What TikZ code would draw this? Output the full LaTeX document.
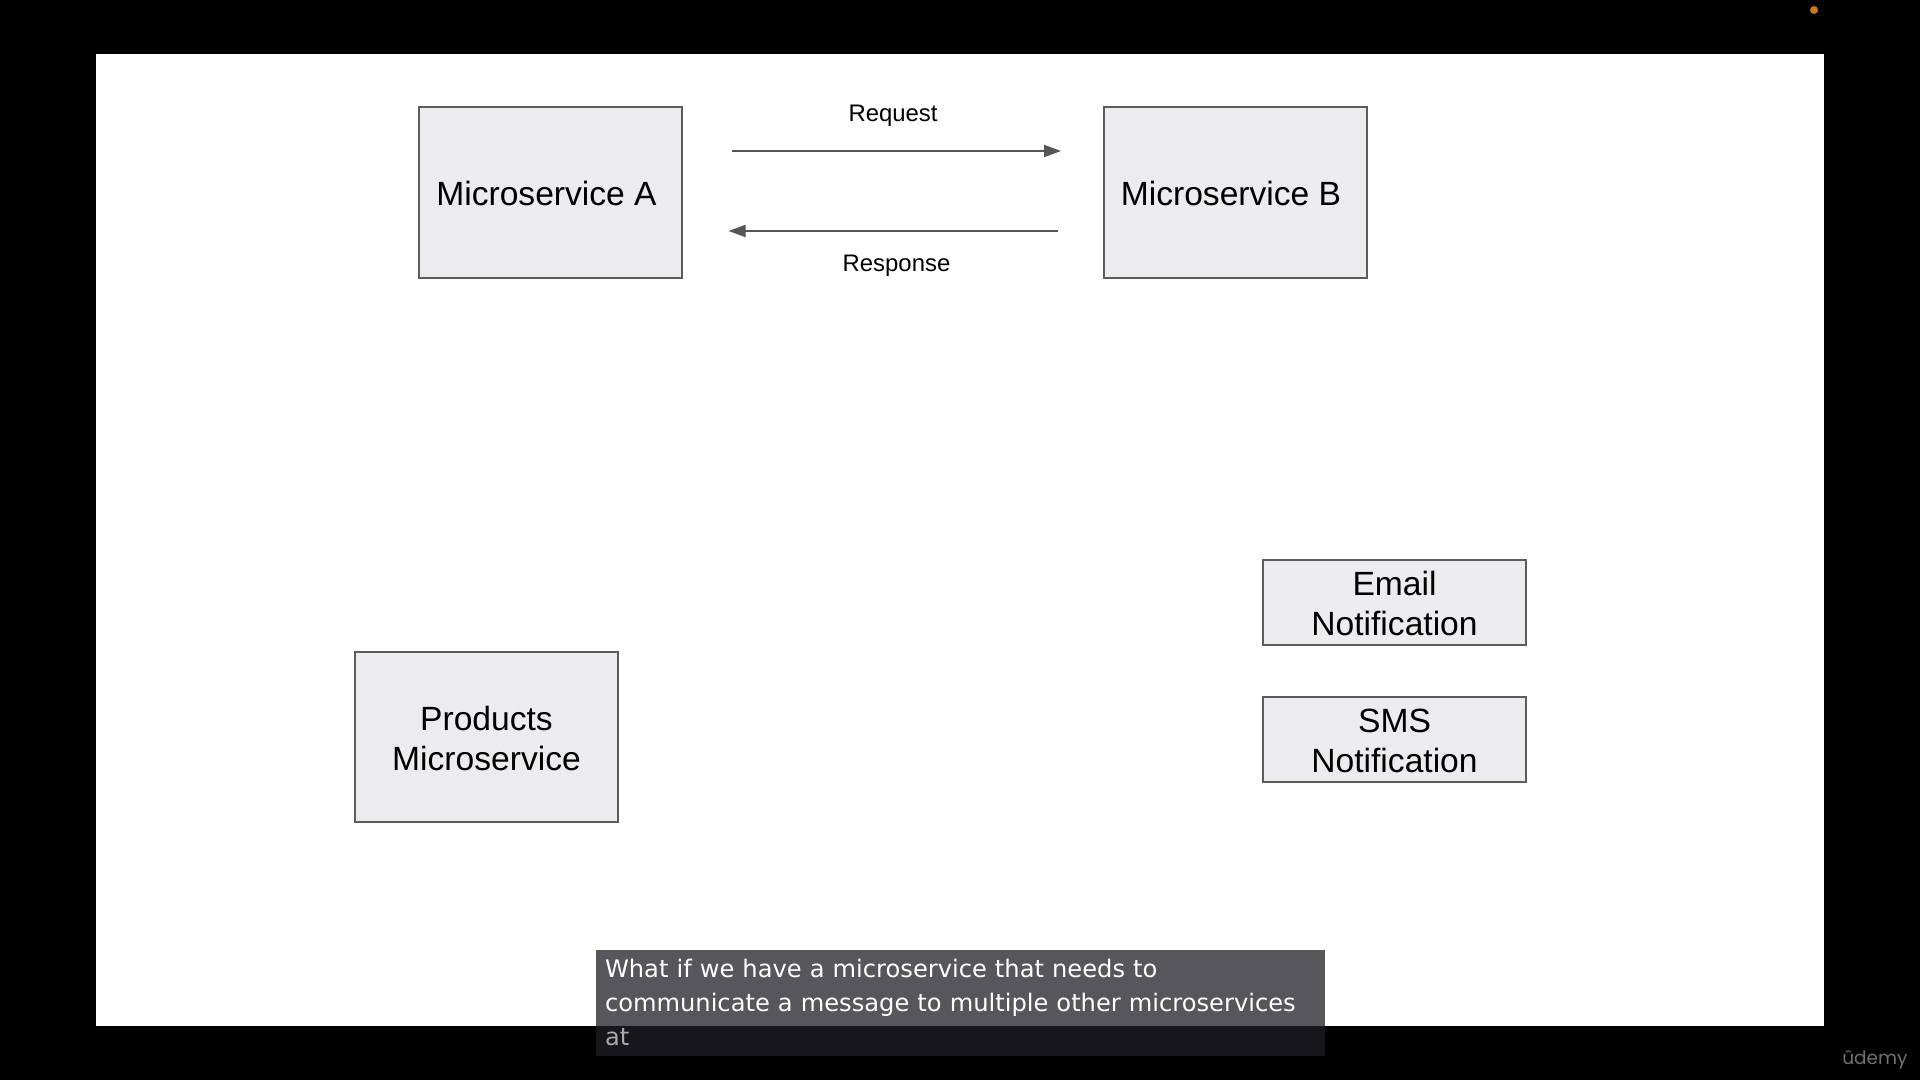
\documentclass[tikz,border=0pt]{standalone}
\usepackage{fontspec}
\setmainfont{Liberation Sans}
\newfontfamily\capfont{DejaVu Sans}
\newfontfamily\logofont{Poppins}
\usetikzlibrary{arrows.meta}
\definecolor{boxfill}{HTML}{ECEBED}
\definecolor{boxline}{HTML}{5C5C5C}
\definecolor{arrowcol}{HTML}{555555}
\definecolor{capbg}{RGB}{31,32,37}
\definecolor{dotcol}{HTML}{C87A22}
\definecolor{logocol}{HTML}{707070}
\newcommand\dn[1]{\raisebox{-1.3pt}[\height][\depth]{#1}}
\newcommand\up[1]{\raisebox{0.8pt}[\height][\depth]{#1}}
\tikzset{
  svcbox/.style={draw=boxline,fill=boxfill,line width=1.8pt,inner sep=0pt,outer sep=0pt,
    minimum width=263.5pt,align=center,text=black,font=\fontsize{33.6}{39.8}\selectfont},
  bigbox/.style={svcbox,minimum height=170.5pt},
  smallbox/.style={svcbox,minimum height=85pt},
  flow/.style={draw=arrowcol,line width=1.8pt,-{Triangle[length=17pt,width=12pt]}},
  flowlabel/.style={inner sep=0pt,text=black,font=\fontsize{23.9}{28}\selectfont},
}
\begin{document}
\begin{tikzpicture}[x=1pt,y=-1pt]
\useasboundingbox (0,0) rectangle (1920,1080);
\fill[black] (0,0) rectangle (1920,1080);
\fill[white] (96,54) rectangle (1824,1026);
\node[bigbox] (a) at (550.5,192.5) {\dn{Microservice A}\kern8pt};
\node[bigbox] (b) at (1235.5,192.5) {\dn{Microservice B}\kern9pt};
\node[bigbox] (p) at (486.5,737) {\dn{Products}\\\dn{Microservice}};
\node[smallbox] (e) at (1394.5,602.5) {\dn{Email}\\\dn{Notification}};
\node[smallbox] (s) at (1394.5,739.5) {\dn{SMS}\\\dn{Notification}};
\coordinate (reqs) at (732,151);
\coordinate (reqe) at (1061,151);
\coordinate (ress) at (1057.5,231);
\coordinate (rese) at (728.5,231);
\draw[flow] (reqs) -- (reqe);
\draw[flow] (ress) -- (rese);
\node[flowlabel] (reql) at (893,116) {Request};
\node[flowlabel] (resl) at (896.5,266) {Response};
\node[anchor=north west,minimum width=729pt,minimum height=106pt,text width=711pt,
  inner xsep=9pt,inner ysep=0pt,outer sep=0pt,fill=capbg,fill opacity=.75,text opacity=1,
  align=left,text=white,font=\capfont\fontsize{24.16}{34}\selectfont] (cap) at (596,950)
  {\up{What if we have a microservice that needs to}\\
   \up{communicate a message to multiple other microservices}\\
   \up{\textcolor[HTML]{A9A9AB}{at}}};
\fill[dotcol] (1814,10) circle (4pt);
\node[text=logocol,inner sep=0pt,font=\logofont\fontsize{18.5}{22}\selectfont] (logo) at (1875,1059.5) {ûdemy};
\end{tikzpicture}
\end{document}
